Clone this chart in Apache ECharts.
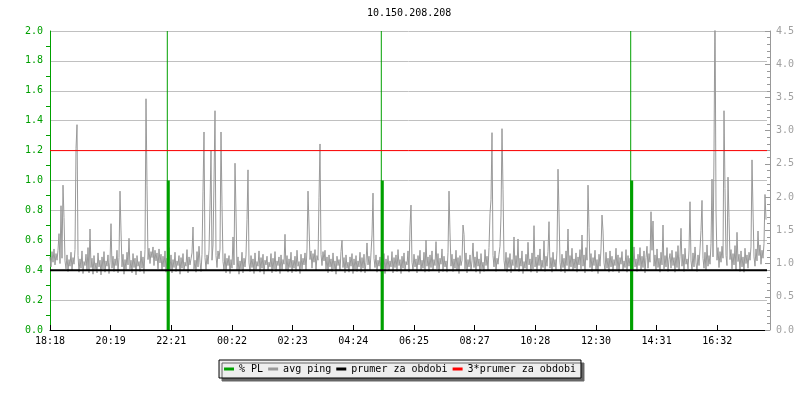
<!DOCTYPE html>
<html>
<head>
<meta charset="utf-8">
<script src="https://cdn.jsdelivr.net/npm/echarts@6/dist/echarts.min.js"></script>
<style>html,body{margin:0;padding:0;background:#fff}#c{width:800px;height:400px}</style>
</head>
<body>
<div id="c"></div>
<script>
// tick labels on the time axis (one every 60.66 samples)
const timeLabels = ['18:18','20:19','22:21','00:22','02:23','04:24','06:25','08:27','10:28','12:30','14:31','16:32'];
const xStep = 60.66;
const sampleCount = 717;

// avg ping [ms], one value per sample (right axis)
const avgPing = [
1.10,0.95,1.18,1.02,1.22,0.98,1.15,1.05,1.20,1.45,1.00,1.87,1.08,2.18,1.69,1.04,0.92,1.13,0.88,1.06,
0.96,1.17,0.90,1.09,0.99,1.21,2.73,3.09,1.12,0.87,1.07,0.93,1.19,0.85,1.03,0.97,1.14,0.89,1.24,0.86,
1.52,0.94,1.08,0.84,1.12,0.91,1.01,0.86,1.16,0.95,1.05,0.83,1.10,0.92,1.18,0.87,1.04,0.96,1.13,0.85,
1.02,1.60,0.93,1.11,0.88,1.07,0.97,1.20,0.86,1.09,2.09,1.49,0.95,1.14,0.84,1.06,0.91,1.17,0.98,1.38,
0.92,1.05,0.86,1.15,0.94,1.08,0.83,1.12,0.96,1.03,0.88,1.19,0.93,1.10,0.85,1.21,3.48,2.17,1.06,1.23,
1.00,1.18,1.09,1.25,0.97,1.20,1.04,1.16,0.92,1.22,1.01,1.14,0.89,1.11,0.95,1.19,0.87,1.08,0.99,1.24,
0.90,1.13,0.86,1.06,0.94,1.17,0.88,1.04,0.97,1.12,0.84,1.09,0.93,1.15,0.89,1.02,0.96,1.21,0.86,1.10,
0.98,1.07,1.16,1.55,0.92,1.05,0.87,1.18,0.95,1.26,1.02,0.88,1.14,2.09,2.98,1.09,0.91,1.13,0.99,1.20,
1.88,2.70,1.05,1.28,2.25,3.30,1.12,0.94,1.19,1.07,1.22,2.98,1.88,1.03,0.90,1.15,0.86,1.08,0.97,1.12,
0.85,1.06,0.93,1.40,0.98,2.51,1.76,0.89,1.10,0.84,1.04,0.92,1.17,0.86,1.08,0.95,1.13,1.66,2.41,1.01,
0.88,1.12,0.94,1.07,0.85,1.16,0.91,1.03,0.96,1.19,0.87,1.09,0.93,1.14,0.84,1.05,0.98,1.11,0.89,1.02,
0.95,1.15,0.86,1.08,0.92,1.18,0.88,1.04,0.97,1.10,0.85,1.13,0.91,1.06,0.99,1.44,0.90,1.12,0.87,1.07,
0.94,1.17,0.86,1.05,0.93,1.11,0.88,1.20,0.96,1.03,0.85,1.14,0.92,1.08,0.98,1.16,0.89,1.22,2.09,2.08,
1.06,1.19,0.93,1.15,1.02,1.21,0.90,1.12,1.05,1.99,2.80,1.14,0.97,1.18,1.04,1.20,0.91,1.10,0.86,1.13,
0.95,1.07,0.88,1.16,0.92,1.04,0.84,1.11,0.97,1.06,0.89,1.18,1.35,0.94,1.09,0.86,1.13,0.93,1.02,0.87,
1.10,0.96,1.15,0.85,1.07,0.91,1.12,0.88,1.04,0.95,1.17,0.87,1.09,0.93,1.14,0.86,1.02,1.31,0.98,1.11,
0.90,1.16,1.43,2.06,1.08,0.94,1.13,0.87,1.05,0.96,1.10,0.88,1.01,0.93,1.15,0.85,1.07,0.92,1.12,0.89,
1.04,0.95,1.18,0.86,1.09,0.94,1.13,0.88,1.21,0.97,1.06,0.85,1.11,0.93,1.16,0.89,1.03,0.98,1.19,0.87,
1.55,1.88,1.02,0.90,1.14,0.95,1.07,0.86,1.12,0.98,1.20,0.89,1.05,0.93,1.17,0.87,1.35,0.96,1.10,0.88,
1.13,0.94,1.19,0.90,1.06,0.97,1.33,0.92,1.15,0.86,1.08,0.99,1.22,0.88,1.11,0.95,1.04,0.87,1.17,2.09,
1.46,0.96,1.14,0.88,1.07,0.93,1.20,0.90,1.09,0.85,1.12,0.97,1.05,1.58,1.44,0.92,1.16,0.86,1.06,0.95,
1.13,0.89,1.04,1.31,0.94,1.10,0.87,1.18,0.96,1.07,0.85,1.15,0.92,1.02,0.88,1.21,0.97,1.11,0.90,1.24,
1.75,1.96,2.97,1.12,0.95,1.19,0.88,1.08,0.99,1.14,1.26,1.73,3.03,2.12,1.05,0.91,1.17,0.87,1.09,0.94,
1.15,0.86,1.06,0.97,1.40,0.90,1.12,0.94,1.37,0.88,1.08,0.96,1.19,0.85,1.03,0.93,1.14,0.89,1.32,0.98,
1.07,0.87,1.16,0.92,1.57,0.95,1.10,0.86,1.13,0.97,1.22,0.89,1.05,0.94,1.34,0.88,1.11,0.96,1.18,1.63,
0.93,1.09,0.87,1.17,0.95,1.06,0.90,1.20,2.42,1.76,1.02,0.88,1.14,0.94,1.08,0.86,1.19,0.97,1.52,0.91,
1.12,0.95,1.23,0.89,1.07,0.93,1.16,0.87,1.10,0.98,1.21,0.92,1.43,0.96,1.13,0.86,1.24,1.05,2.18,1.54,
0.94,1.15,0.88,1.09,0.97,1.20,0.90,1.06,0.85,1.14,0.96,1.22,1.73,1.49,1.01,0.89,1.17,0.93,1.08,0.87,
1.19,0.95,1.11,0.88,1.06,0.97,1.23,0.91,1.13,0.86,1.09,0.99,1.18,0.90,1.04,0.94,1.21,0.87,1.12,0.96,
1.08,0.92,1.16,0.89,1.25,0.95,1.07,0.88,1.14,0.97,1.24,0.90,1.11,0.94,1.19,0.86,1.09,1.26,0.93,1.15,
1.02,1.78,1.20,1.64,0.96,1.13,0.89,1.22,0.94,1.08,0.87,1.17,0.98,1.58,0.92,1.12,0.95,1.24,0.88,1.06,
1.15,0.93,1.20,0.97,1.09,0.87,1.18,0.94,1.27,0.90,1.11,1.53,0.96,1.14,0.88,1.23,0.99,1.07,0.92,1.19,
1.93,1.04,0.90,1.16,0.95,1.25,1.01,0.88,1.13,0.97,1.22,1.50,1.95,1.08,0.93,1.17,0.89,1.28,0.96,1.12,
0.99,1.30,2.27,1.10,2.67,5.00,1.80,1.05,1.24,0.94,1.18,1.02,1.26,1.08,3.30,2.13,1.12,0.97,2.30,1.69,
1.06,1.21,0.92,1.15,0.98,1.27,0.90,1.47,1.03,1.14,0.88,1.19,0.95,1.10,0.87,1.23,1.00,1.13,0.93,1.17,
1.05,1.25,2.56,1.80,1.10,0.96,1.22,1.04,1.49,1.12,1.28,0.99,1.20,1.08,1.30,2.04,1.66
];

// packet loss [%] events (left axis)
const plTimes = [118.3, 332.3, 581.7];
const plValue = [1.0, 1.0, 1.0];
const plPeak  = [100, 100, 100];

// mean ping over the period and 3x mean [ms]
const meanPing = 0.9;
const tripleMean = 2.7;

const GREEN = '#00a000', GRAY = '#999999';
const FONT = 'DejaVu Sans Mono';

const chart = echarts.init(document.getElementById('c'), null, {renderer: 'canvas'});
chart.setOption({
  animation: false,
  backgroundColor: '#ffffff',
  title: {
    text: '10.150.208.208', left: 367, top: 8, padding: 0,
    textStyle: {fontFamily: FONT, fontSize: 10, fontWeight: 'normal', color: '#000'}
  },
  grid: {left: 50, right: 33, top: 31, bottom: 70, containLabel: false},
  legend: {
    left: 'center', top: 360, orient: 'horizontal',
    padding: [4, 5], itemGap: 5, itemWidth: 10, itemHeight: 3, icon: 'rect',
    backgroundColor: '#eeeeee', borderColor: '#000', borderWidth: 1,
    shadowColor: '#666', shadowOffsetX: 3, shadowOffsetY: 3, shadowBlur: 0,
    textStyle: {fontFamily: FONT, fontSize: 10, color: '#000', padding: [0,0,0,0]},
    data: ['% PL', 'avg ping', 'prumer za obdobi', '3*prumer za obdobi']
  },
  xAxis: {
    type: 'value', min: 0, max: sampleCount, interval: xStep,
    axisLine: {show: true, lineStyle: {color: '#000', width: 1}},
    axisTick: {show: true, inside: true, length: 5, lineStyle: {color: '#000'}},
    splitLine: {show: false},
    axisLabel: {
      fontFamily: FONT, fontSize: 10, color: '#000', margin: 6,
      showMaxLabel: false,
      formatter: function (v) {
        const k = Math.round(v / xStep);
        return (Math.abs(v - k * xStep) < 0.02 && k < timeLabels.length) ? timeLabels[k] : '';
      }
    }
  },
  yAxis: [
    {
      type: 'value', min: 0, max: 2, interval: 0.2, position: 'left',
      axisLine: {show: true, lineStyle: {color: GREEN, width: 1}},
      axisTick: {show: false},
      minorTick: {show: true, splitNumber: 2, length: 4, lineStyle: {color: GREEN}},
      splitLine: {show: true, lineStyle: {color: '#c0c0c0', width: 1}},
      axisLabel: {fontFamily: FONT, fontSize: 10, color: GREEN, margin: 7,
        formatter: v => v.toFixed(1)}
    },
    {
      type: 'value', min: 0, max: 4.5, interval: 0.5, position: 'right', offset: 3,
      axisLine: {show: true, lineStyle: {color: GRAY, width: 1}},
      axisTick: {show: true, inside: true, length: 5, lineStyle: {color: GRAY}},
      minorTick: {show: true, splitNumber: 5, length: 3, lineStyle: {color: GRAY}},
      splitLine: {show: false},
      axisLabel: {fontFamily: FONT, fontSize: 10, color: '#a0a0a0', margin: 6,
        formatter: v => v.toFixed(1)}
    }
  ],
  series: [
    {
      name: 'avg ping', type: 'line', yAxisIndex: 1, symbol: 'none', clip: true,
      data: avgPing.map((v, i) => [i, v]),
      lineStyle: {color: GRAY, width: 1}, itemStyle: {color: GRAY},
      z: 2
    },
    {
      name: '% PL', type: 'bar', yAxisIndex: 0, barWidth: 1, clip: true,
      data: plTimes.map((t, k) => [t, plPeak[k]]),
      itemStyle: {color: GREEN}, z: 3
    },
    {
      name: '% PL', type: 'bar', yAxisIndex: 0, barWidth: 3, barGap: '-100%', clip: true,
      data: plTimes.map((t, k) => [t, plValue[k]]),
      itemStyle: {color: GREEN}, z: 3
    },
    {
      name: 'prumer za obdobi', type: 'line', yAxisIndex: 1, symbol: 'none',
      data: [[0, meanPing], [sampleCount, meanPing]],
      lineStyle: {color: '#000', width: 2}, itemStyle: {color: '#000'}, z: 4
    },
    {
      name: '3*prumer za obdobi', type: 'line', yAxisIndex: 1, symbol: 'none',
      data: [[0, tripleMean], [sampleCount, tripleMean]],
      lineStyle: {color: '#ff0000', width: 1}, itemStyle: {color: '#ff0000'}, z: 4
    }
  ]
});
</script>
</body>
</html>
